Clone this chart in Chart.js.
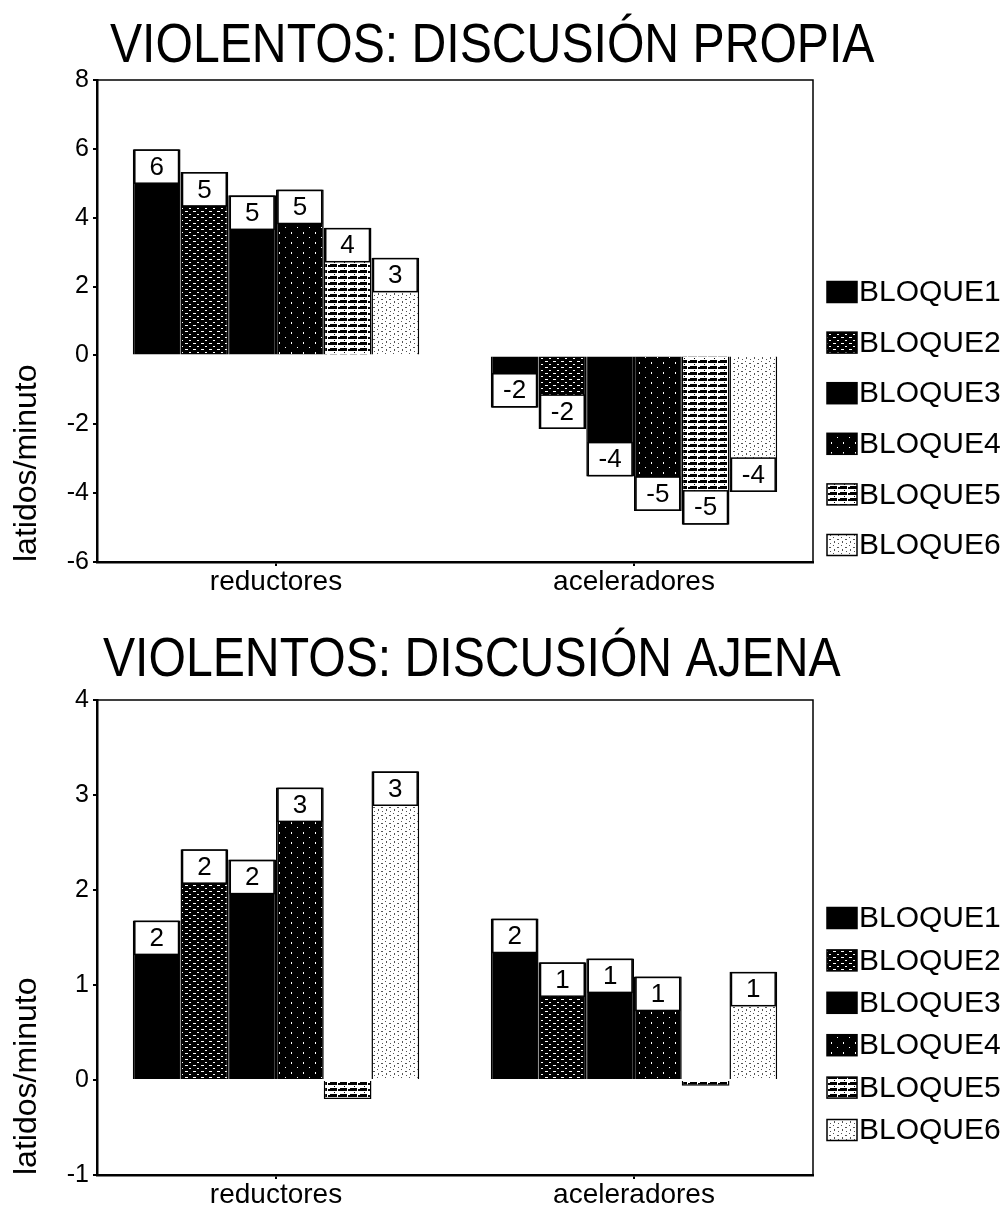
<!DOCTYPE html>
<html>
<head>
<meta charset="utf-8">
<script src="https://cdn.jsdelivr.net/npm/chart.js@4/dist/chart.umd.min.js"></script>
<style>
html, body { margin: 0; padding: 0; background: #fff; overflow: hidden; }
#box1 { position: absolute; left: 0; top: 0; width: 1007px; height: 610px; }
#box2 { position: absolute; left: 0; top: 620px; width: 1007px; height: 600px; }
</style>
</head>
<body>
<div id="box1"><canvas id="chart1"></canvas></div>
<div id="box2"><canvas id="chart2"></canvas></div>
<script>
// data
const categories = ["reductores", "aceleradores"];
const seriesNames = ["BLOQUE1", "BLOQUE2", "BLOQUE3", "BLOQUE4", "BLOQUE5", "BLOQUE6"];

const propiaTitle = "VIOLENTOS: DISCUSIÓN PROPIA";
const propiaReductores = [5.99, 5.33, 4.65, 4.82, 3.71, 2.84];
const propiaAceleradores = [-1.52, -2.14, -3.52, -4.52, -4.92, -3.97];
const propiaTicks = [-6, 8, 2];

const ajenaTitle = "VIOLENTOS: DISCUSIÓN AJENA";
const ajenaReductores = [1.68, 2.43, 2.32, 3.08, -0.2, 3.25];
const ajenaAceleradores = [1.7, 1.24, 1.28, 1.09, -0.06, 1.14];
const ajenaTicks = [-1, 4, 1];

const yTitle = "latidos/minuto";

const FONT = "'Liberation Sans', Arial, sans-serif";

function makePattern(kind) {
    let c = document.createElement('canvas');
    let g = c.getContext('2d');
    if (kind == 2) {
        c.width = 8; c.height = 6;
        g.fillStyle = '#000'; g.fillRect(0, 0, 8, 6);
        g.fillStyle = '#fff';
        g.fillRect(1, 1, 3, 1);
        g.fillRect(5, 4, 2, 1);
    } else if (kind == 4) {
        c.width = 12; c.height = 10;
        g.fillStyle = '#000'; g.fillRect(0, 0, 12, 10);
        g.fillStyle = '#fff';
        g.fillRect(3, 2, 1, 2);
        g.fillRect(9, 7, 1, 1);
    } else if (kind == 5) {
        c.width = 10; c.height = 6;
        g.fillStyle = '#fff'; g.fillRect(0, 0, 10, 6);
        g.fillStyle = '#000';
        g.fillRect(0, 0, 7, 3);
        g.fillRect(8, 1, 2, 2);
        g.fillRect(4, 4, 1, 1);
    } else if (kind == 6) {
        c.width = 8; c.height = 8;
        g.fillStyle = '#fff'; g.fillRect(0, 0, 8, 8);
        g.fillStyle = '#555';
        g.fillRect(1, 1, 1, 1);
        g.fillRect(5, 3, 2, 1);
        g.fillRect(2, 5, 1, 2);
        g.fillRect(6, 7, 1, 1);
    }
    return g.createPattern(c, 'repeat');
}

const fills = ['#000', makePattern(2), '#000', makePattern(4), makePattern(5), makePattern(6)];

// narrow title drawn above the plot
const condensedTitle = {
    id: 'condensedTitle',
    afterDraw(chart, args, opts) {
        let ctx = chart.ctx;
        ctx.save();
        ctx.font = '56px ' + FONT;
        ctx.fillStyle = '#000';
        ctx.textAlign = 'left';
        ctx.textBaseline = 'alphabetic';
        ctx.translate(opts.x, opts.baseline);
        ctx.scale(0.86, 1);
        ctx.fillText(opts.text, 0, 0);
        ctx.restore();
    }
};

// white value boxes at the end of each bar
const barLabels = {
    id: 'barLabels',
    afterDatasetsDraw(chart) {
        let ctx = chart.ctx;
        ctx.save();
        ctx.font = '26px ' + FONT;
        ctx.textAlign = 'center';
        ctx.textBaseline = 'middle';
        chart.data.datasets.forEach((ds, i) => {
            chart.getDatasetMeta(i).data.forEach((bar, j) => {
                let v = ds.data[j];
                let r = Math.sign(v) * Math.round(Math.abs(v));
                if (r == 0) return;
                let h = 33;
                let w = bar.width - 4;
                let left = bar.x - w / 2;
                let top = v > 0 ? bar.y + 1 : bar.y - h - 1;
                ctx.fillStyle = '#fff';
                ctx.fillRect(left, top, w, h);
                ctx.strokeStyle = '#000';
                ctx.lineWidth = 1.5;
                ctx.strokeRect(left, top, w, h);
                ctx.fillStyle = '#000';
                ctx.fillText(String(r), bar.x, top + h / 2 + 1);
            });
        });
        ctx.restore();
    }
};

// legend column to the right of the plot
const sideLegend = {
    id: 'sideLegend',
    afterDraw(chart, args, opts) {
        let a = chart.chartArea;
        let ctx = chart.ctx;
        ctx.save();
        ctx.font = '30px ' + FONT;
        ctx.textAlign = 'left';
        ctx.textBaseline = 'middle';
        chart.data.datasets.forEach((ds, i) => {
            let cy = a.top + opts.first + i * opts.gap;
            let bx = a.right + 14;
            ctx.fillStyle = ds.backgroundColor;
            ctx.fillRect(bx, cy - 10.5, 30, 21);
            ctx.strokeStyle = '#000';
            ctx.lineWidth = 1.5;
            ctx.strokeRect(bx, cy - 10.5, 30, 21);
            ctx.fillStyle = '#000';
            ctx.fillText(ds.label, bx + 32, cy + 1);
        });
        ctx.restore();
    }
};

// top and right sides of the plot frame
const frame = {
    id: 'frame',
    afterDraw(chart) {
        let a = chart.chartArea;
        let ctx = chart.ctx;
        ctx.save();
        ctx.strokeStyle = '#000';
        ctx.lineWidth = 1.5;
        ctx.beginPath();
        ctx.moveTo(a.left, a.top);
        ctx.lineTo(a.right, a.top);
        ctx.lineTo(a.right, a.bottom);
        ctx.stroke();
        ctx.restore();
    }
};

function makeChart(id, title, titleX, titleBase, reductores, aceleradores, ticks, padBottom, legendFirst, legendGap) {
    let datasets = [];
    for (let i = 0; i < seriesNames.length; i++) {
        datasets.push({
            label: seriesNames[i],
            data: [reductores[i], aceleradores[i]],
            backgroundColor: fills[i],
            borderColor: '#000',
            borderWidth: 1.5,
            categoryPercentage: 0.8,
            barPercentage: 1.0
        });
    }
    let ctx = document.getElementById(id).getContext('2d');
    return new Chart(ctx, {
        type: 'bar',
        data: { labels: categories, datasets: datasets },
        plugins: [barLabels, frame, sideLegend, condensedTitle],
        options: {
            animation: false,
            responsive: true,
            maintainAspectRatio: false,
            devicePixelRatio: 1,
            layout: { padding: { left: 0, right: 194, top: 80, bottom: padBottom } },
            plugins: {
                tooltip: { enabled: false },
                title: { display: false },
                legend: { display: false },
                condensedTitle: { text: title, x: titleX, baseline: titleBase },
                sideLegend: { first: legendFirst, gap: legendGap }
            },
            scales: {
                x: {
                    ticks: { color: '#000', font: { family: FONT, size: 28, lineHeight: 1 }, padding: 2 },
                    grid: { offset: false, drawOnChartArea: false, tickLength: 4, color: '#000', lineWidth: 2 },
                    border: { display: true, color: '#000', width: 2.5 }
                },
                y: {
                    min: ticks[0],
                    max: ticks[1],
                    ticks: { stepSize: ticks[2], color: '#000', font: { family: FONT, size: 25 }, padding: 4 },
                    grid: { drawOnChartArea: false, tickLength: 4, color: '#000', lineWidth: 2 },
                    border: { display: true, color: '#000', width: 2.5 },
                    title: {
                        display: true,
                        text: yTitle,
                        align: 'start',
                        color: '#000',
                        font: { family: FONT, size: 32 },
                        padding: { top: 8, bottom: 0 }
                    },
                    afterFit: function (s) { s.width = 97; }
                }
            }
        }
    });
}

makeChart('chart1', propiaTitle, 110, 62, propiaReductores, propiaAceleradores, propiaTicks, 12, 212, 50.6);
makeChart('chart2', ajenaTitle, 103, 56, ajenaReductores, ajenaAceleradores, ajenaTicks, 9, 218, 42.4);
</script>
</body>
</html>
